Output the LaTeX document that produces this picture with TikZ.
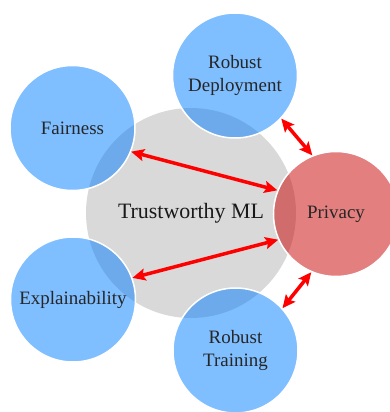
\documentclass[tikz,border=0pt]{standalone}
\usepackage{fontspec}
\setmainfont{Liberation Serif}
\usetikzlibrary{arrows.meta}
\definecolor{topicblue}{RGB}{0,125,255}
\definecolor{topicred}{RGB}{200,0,0}
\definecolor{coregray}{RGB}{217,217,217}
\begin{document}
\begin{tikzpicture}[x=1bp,y=-1bp,
  core/.style={circle, minimum size=210bp, inner sep=0pt, fill=coregray,
    text=black!90, font=\fontsize{22}{26}\selectfont},
  topic/.style={circle, minimum size=125bp, inner sep=0pt, draw=white,
    line width=1.5bp, fill=topicblue, fill opacity=0.5, text opacity=1,
    align=center, text=black!85, font=\fontsize{19}{24}\selectfont},
  focus/.style={topic, fill=topicred},
  link/.style={red, line width=3.5bp,
    {Stealth[length=13bp,width=12bp,inset=2.5bp]}-{Stealth[length=13bp,width=12bp,inset=2.5bp]}}]
  \path[use as bounding box] (0,0) rectangle (390,412);
  \clip (0,0) rectangle (390,412);

  % central theme
  \node[core] (core) at (191,213) {Trustworthy ML};

  % surrounding topics
  \node[topic] (fair) at (72.5,128) {Fairness};
  \node[topic] (deploy) at (235,75.5) {Robust\\Deployment};
  \node[topic] (expl) at (73,299.5) {Explainability};
  \node[topic] (train) at (235.5,350.5) {Robust\\Training};
  \node[focus] (priv) at (336,214) {Privacy};

  % links to privacy
  \draw[link] (fair.-22) -- (priv.158);
  \draw[link] (expl.20.5) -- (priv.204.5);
  \draw[link] (deploy.-43.5) -- (priv.112.5);
  \draw[link] (train.42.5) -- (priv.247);
\end{tikzpicture}
\end{document}
